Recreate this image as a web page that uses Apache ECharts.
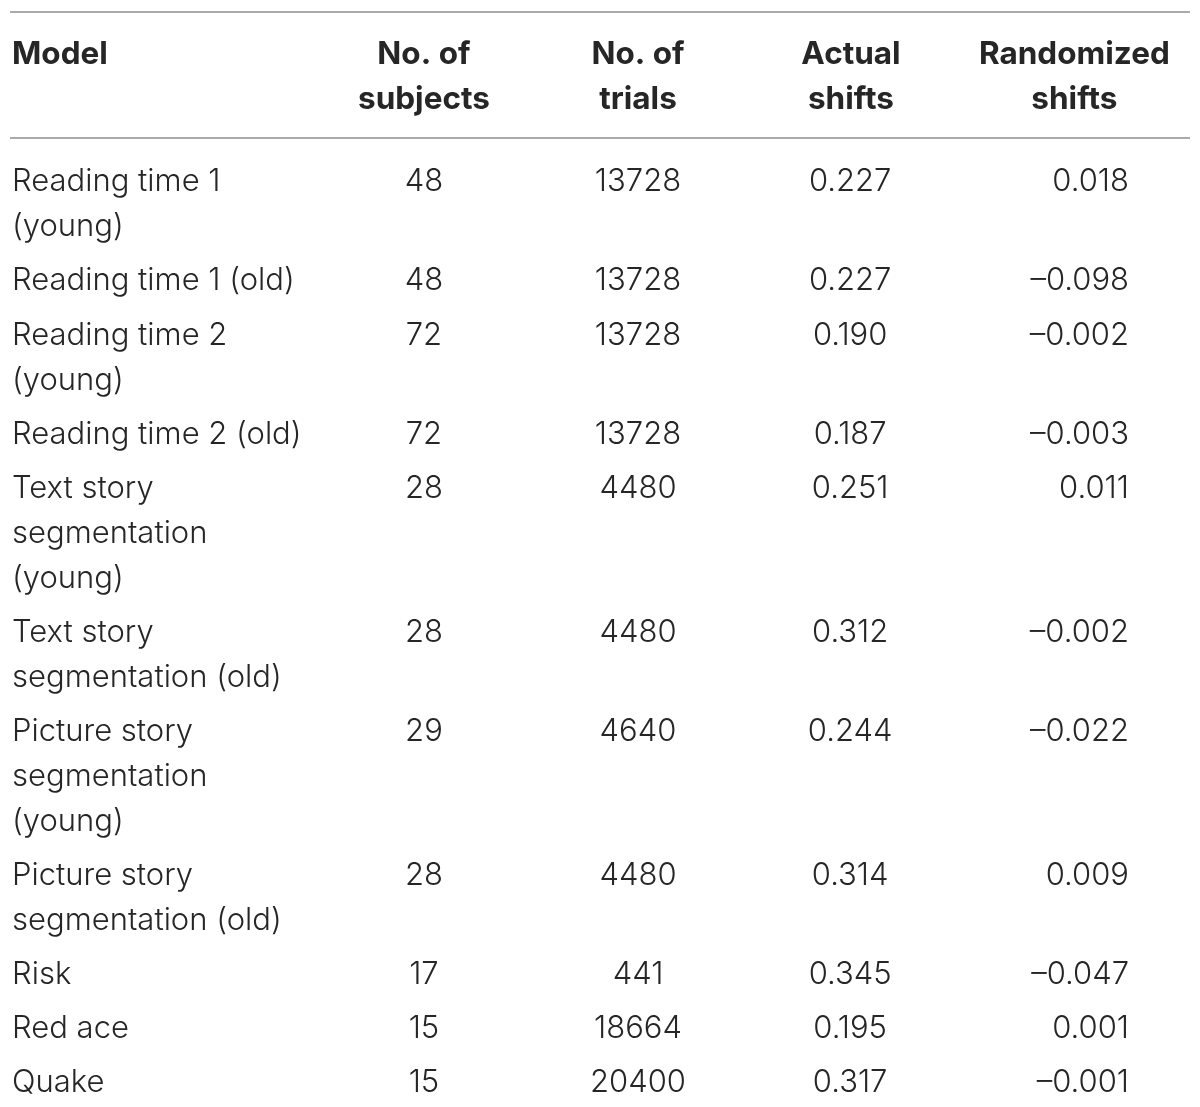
<!DOCTYPE html>
<html><head><meta charset="utf-8">
<script src="https://cdn.jsdelivr.net/npm/echarts@6/dist/echarts.min.js"></script>
<style>html,body{margin:0;padding:0;background:#fff}#c{width:1200px;height:1107px}</style>
</head><body><div id="c"></div>
<script>
// ---- data ----
const headers = ['Model', 'No. of\nsubjects', 'No. of\ntrials', 'Actual\nshifts', 'Randomized\nshifts'];
const models = [
  'Reading time 1\n(young)',
  'Reading time 1 (old)',
  'Reading time 2\n(young)',
  'Reading time 2 (old)',
  'Text story\nsegmentation\n(young)',
  'Text story\nsegmentation (old)',
  'Picture story\nsegmentation\n(young)',
  'Picture story\nsegmentation (old)',
  'Risk',
  'Red ace',
  'Quake'
];
const subjects = [48, 48, 72, 72, 28, 28, 29, 28, 17, 15, 15];
const trials = [13728, 13728, 13728, 13728, 4480, 4480, 4640, 4480, 441, 18664, 20400];
const actualShifts = [0.227, 0.227, 0.190, 0.187, 0.251, 0.312, 0.244, 0.314, 0.345, 0.195, 0.317];
const randomizedShifts = [0.018, -0.098, -0.002, -0.003, 0.011, -0.002, -0.022, 0.009, -0.047, 0.001, -0.001];

// ---- layout (table geometry) ----
const PITCH = 45, ROW_GAP = 9.1;
const TOP_RULE = 12, HEADER_FIRST = 55, HEADER_RULE = 138, BODY_FIRST = 182;
const colX = [0.17, 35.08, 53.22, 71.2, 94.83];           // % of table width
const colAlign = ['left', 'center', 'center', 'center', 'right'];
const headX = [0.17, 35.08, 53.22, 71.27, 90.2];
const headAlign = ['left', 'center', 'center', 'center', 'center'];
const TEXT_COLOR = '#262626';
const BODY_FONT = '300 31px Inter';
const HEAD_FONT = 'bold 31.5px Inter';

const fmt3 = v => (v < 0 ? '\u2013' : '') + Math.abs(v).toFixed(3);
const cells = models.map((m, i) => [m, String(subjects[i]), String(trials[i]), fmt3(actualShifts[i]), fmt3(randomizedShifts[i])]);
const rowY = [];
let y = BODY_FIRST;
cells.forEach(r => {
  rowY.push(y);
  const lines = Math.max.apply(null, r.map(t => t.split('\n').length));
  y += lines * PITCH + ROW_GAP;
});

function textEl(api, x, yc, txt, align, font) {
  const p = api.coord([x, yc - PITCH / 2]);
  return {
    type: 'text', x: p[0], y: p[1],
    style: { text: txt, fill: TEXT_COLOR, font: font, align: align, verticalAlign: 'top', lineHeight: PITCH }
  };
}
function rule(api, yv) {
  const a = api.coord([0, yv]), b = api.coord([100, yv]);
  return { type: 'line', shape: { x1: a[0], y1: a[1], x2: b[0], y2: b[1] }, style: { stroke: '#8e8e8e', lineWidth: 1.5 } };
}

const chart = echarts.init(document.getElementById('c'));
chart.setOption({
  animation: false,
  grid: { left: 10, right: 10, top: 0, bottom: 0 },
  xAxis: { type: 'value', min: 0, max: 100, show: false },
  yAxis: { type: 'value', min: 0, max: 1107, inverse: true, show: false },
  series: [
    {
      type: 'custom', silent: true,
      data: [[0, HEADER_FIRST]],
      renderItem: (params, api) => ({
        type: 'group',
        children: [rule(api, TOP_RULE), rule(api, HEADER_RULE)].concat(
          headers.map((h, c) => textEl(api, headX[c], api.value(1), h, headAlign[c], HEAD_FONT)))
      })
    },
    {
      type: 'custom', silent: true,
      data: rowY.map((v, i) => [i, v]),
      renderItem: (params, api) => {
        const i = api.value(0), yc = api.value(1);
        return {
          type: 'group',
          children: cells[i].map((t, c) => textEl(api, colX[c], yc, t, colAlign[c], BODY_FONT))
        };
      }
    }
  ]
});
</script></body></html>
